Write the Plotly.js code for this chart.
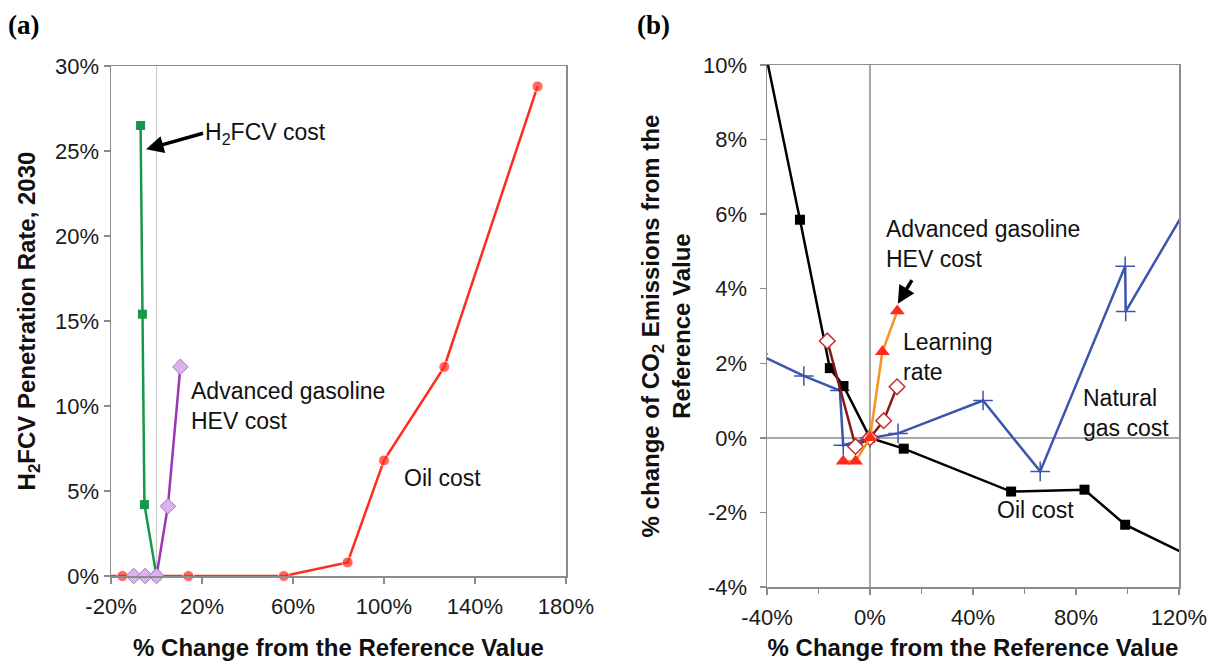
<!DOCTYPE html>
<html><head><meta charset="utf-8">
<script src="https://cdn.plot.ly/plotly-3.0.1.min.js"></script>
<style>html,body{margin:0;padding:0;background:#fff}#chart{width:1209px;height:661px}</style>
</head><body><div id="chart"></div>
<script>
// ---------- Panel (a): H2FCV penetration rate, 2030 ----------
const aH2X = [-7, -6.2, -5.3, 0];
const aH2Y = [26.5, 15.4, 4.2, 0];
const aHevX = [-10, -5, 0, 5, 10.5];
const aHevY = [0, 0, 0, 4.1, 12.3];
const aOilX = [-22, -15, 14, 56, 84, 100, 126.5, 167.5];
const aOilY = [0, 0, 0, 0, 0.8, 6.8, 12.3, 28.8];
const aXTicks = [-20, 20, 60, 100, 140, 180];
const aXLabels = ['-20%', '20%', '60%', '100%', '140%', '180%'];
const aYTicks = [0, 5, 10, 15, 20, 25, 30];
const aYLabels = ['0%', '5%', '10%', '15%', '20%', '25%', '30%'];

// ---------- Panel (b): change of CO2 emissions ----------
const bOilX = [-42, -27.2, -15.6, -10.3, 0, 13.1, 54.8, 83.3, 99.1, 125];
const bOilY = [10.8, 5.85, 1.87, 1.39, 0, -0.29, -1.44, -1.39, -2.33, -3.2];
const bGasX = [-43.5, -25.7, -11.7, -10.4, 0, 10.9, 43.9, 66.1, 99.1, 99.3, 125.5];
const bGasY = [2.25, 1.66, 1.27, -0.2, 0, 0.12, 1.0, -0.9, 4.6, 3.39, 6.47];
const bLearnX = [-16.6, -5.6, 0, 5.3, 10.5];
const bLearnY = [2.6, -0.23, 0, 0.46, 1.37];
const bHevX = [-10.4, -5.6, 0, 4.8, 10.6];
const bHevY = [-0.63, -0.63, 0, 2.31, 3.4];
const bXTicks = [-40, 0, 40, 80, 120];
const bXLabels = ['-40%', '0%', '40%', '80%', '120%'];
const bXMinor = [-20, 20, 60, 100];
const bYTicks = [-4, -2, 0, 2, 4, 6, 8, 10];
const bYLabels = ['-4%', '-2%', '0%', '2%', '4%', '6%', '8%', '10%'];

const FONT = '"Liberation Sans", Arial, sans-serif';
const W = 1209, H = 661;

function inRange(xs, lo, hi, size) { return xs.map(v => (v < lo || v > hi) ? 0 : size); }

const traces = [
  {x: aOilX, y: aOilY, xaxis: 'x', yaxis: 'y', mode: 'lines+markers', cliponaxis: false,
   line: {color: '#ff2b1c', width: 2.5},
   marker: {symbol: 'circle', size: inRange(aOilX, -20, 180, 11), color: '#ff2b1c'}},
  {x: aH2X, y: aH2Y, xaxis: 'x', yaxis: 'y', mode: 'lines+markers', cliponaxis: false,
   line: {color: '#16974a', width: 2.5},
   marker: {symbol: 'square', size: 9, color: '#16974a'}},
  {x: aHevX, y: aHevY, xaxis: 'x', yaxis: 'y', mode: 'lines+markers', cliponaxis: false,
   line: {color: '#9b34b5', width: 2.5},
   marker: {symbol: 'diamond', size: 12, color: '#dcb2ec', line: {color: '#a478c4', width: 1}}},

  {x: bGasX, y: bGasY, xaxis: 'x2', yaxis: 'y2', mode: 'lines+markers',
   line: {color: '#3b55ae', width: 2.5},
   marker: {symbol: 'cross-thin', size: 14, color: '#3b55ae', line: {color: '#3b55ae', width: 1.5}}},
  {x: bOilX, y: bOilY, xaxis: 'x2', yaxis: 'y2', mode: 'lines+markers',
   line: {color: '#000000', width: 2.5},
   marker: {symbol: 'square', size: 10, color: '#000000'}},
  {x: bLearnX, y: bLearnY, xaxis: 'x2', yaxis: 'y2', mode: 'lines+markers',
   line: {color: '#8b1818', width: 2.5},
   marker: {symbol: 'diamond', size: 12, color: '#ffffff', line: {color: '#c03030', width: 1.5}}},
  {x: bHevX, y: bHevY, xaxis: 'x2', yaxis: 'y2', mode: 'lines+markers',
   line: {color: '#f7931e', width: 2.5},
   marker: {symbol: 'triangle-up', size: 13, color: '#ff2a1a'}}
];

const axisCommon = {
  showline: true, linecolor: '#8c8c8c', linewidth: 1.5, mirror: true,
  showgrid: false, ticks: 'outside', ticklen: 6, tickcolor: '#8c8c8c', tickwidth: 1.5,
  tickfont: {family: FONT, size: 22, color: '#1a1a1a'}, tickmode: 'array'
};
const titleFont = {family: FONT, size: 24, color: '#111', weight: 'bold'};
const noteFont = {family: FONT, size: 23, color: '#111'};

const layout = {
  width: W, height: H, margin: {l: 0, r: 0, t: 0, b: 0},
  paper_bgcolor: '#fff', plot_bgcolor: '#fff', showlegend: false,
  xaxis: Object.assign({}, axisCommon, {
    domain: [111 / W, 566 / W], range: [-20, 180], anchor: 'y',
    tickvals: aXTicks, ticktext: aXLabels, ticklabelstandoff: 4,
    zeroline: true, zerolinecolor: '#c8c8c8', zerolinewidth: 1.5,
    title: {text: '% Change from the Reference Value', font: titleFont, standoff: 25}
  }),
  yaxis: Object.assign({}, axisCommon, {
    domain: [1 - 576 / H, 1 - 66 / H], range: [0, 30], anchor: 'x',
    tickvals: aYTicks, ticktext: aYLabels, zeroline: false,
    title: {text: 'H<sub>2</sub>FCV Penetration Rate, 2030', font: titleFont, standoff: 12}
  }),
  xaxis2: Object.assign({}, axisCommon, {
    domain: [767 / W, 1179 / W], range: [-40, 120], anchor: 'y2',
    tickvals: bXTicks, ticktext: bXLabels, ticklabelstandoff: 4,
    minor: {tickvals: bXMinor, ticks: 'outside', ticklen: 5, tickcolor: '#8c8c8c', tickwidth: 1.5},
    zeroline: true, zerolinecolor: '#a8a8a8', zerolinewidth: 1.5,
    title: {text: '% Change from the Reference Value', font: titleFont, standoff: 11}
  }),
  yaxis2: Object.assign({}, axisCommon, {
    domain: [1 - 587 / H, 1 - 65 / H], range: [-4, 10], anchor: 'x2',
    tickvals: bYTicks, ticktext: bYLabels, ticklabelstandoff: 8,
    zeroline: true, zerolinecolor: '#a8a8a8', zerolinewidth: 1.5,
    title: {text: '% change of CO<sub>2</sub> Emissions from the<br>Reference Value', font: titleFont, standoff: 5}
  }),
  annotations: [
    {xref: 'paper', yref: 'paper', x: 6 / W, y: 1 - 8 / H, xanchor: 'left', yanchor: 'top', showarrow: false,
     text: '<b>(a)</b>', font: {family: '"Liberation Serif", "Times New Roman", serif', size: 27, color: '#000'}},
    {xref: 'paper', yref: 'paper', x: 635 / W, y: 1 - 8 / H, xanchor: 'left', yanchor: 'top', showarrow: false,
     text: '<b>(b)</b>', font: {family: '"Liberation Serif", "Times New Roman", serif', size: 27, color: '#000'}},

    {xref: 'x', yref: 'y', x: -4.6, y: 25.1, ax: 57, ay: -16, xanchor: 'left', yanchor: 'middle',
     text: 'H<sub>2</sub>FCV cost', font: noteFont, showarrow: true,
     arrowhead: 2, arrowsize: 1, arrowwidth: 3.5, arrowcolor: '#000'},
    {xref: 'x', yref: 'y', x: 14.3, y: 10.0, xanchor: 'left', yanchor: 'middle', align: 'left', showarrow: false,
     text: 'Advanced gasoline<br>HEV cost', font: noteFont},
    {xref: 'x', yref: 'y', x: 107.8, y: 5.75, xanchor: 'left', yanchor: 'middle', showarrow: false,
     text: 'Oil cost', font: noteFont},

    {xref: 'x2', yref: 'y2', x: 10.8, y: 3.6, ax: 15, ay: -25, text: '', showarrow: true,
     arrowhead: 2, arrowsize: 1, arrowwidth: 3.5, arrowcolor: '#000'},
    {xref: 'x2', yref: 'y2', x: 5.35, y: 5.19, xanchor: 'left', yanchor: 'middle', align: 'left', showarrow: false,
     text: 'Advanced gasoline<br>HEV cost', font: noteFont},
    {xref: 'x2', yref: 'y2', x: 12.2, y: 2.18, xanchor: 'left', yanchor: 'middle', align: 'left', showarrow: false,
     text: 'Learning<br>rate', font: noteFont},
    {xref: 'x2', yref: 'y2', x: 82.0, y: 0.66, xanchor: 'left', yanchor: 'middle', align: 'left', showarrow: false,
     text: 'Natural<br>gas cost', font: noteFont},
    {xref: 'x2', yref: 'y2', x: 48.4, y: -1.93, xanchor: 'left', yanchor: 'middle', showarrow: false,
     text: 'Oil cost', font: noteFont}
  ]
};

Plotly.newPlot('chart', traces, layout, {staticPlot: true, displayModeBar: false});
</script>
</body></html>
